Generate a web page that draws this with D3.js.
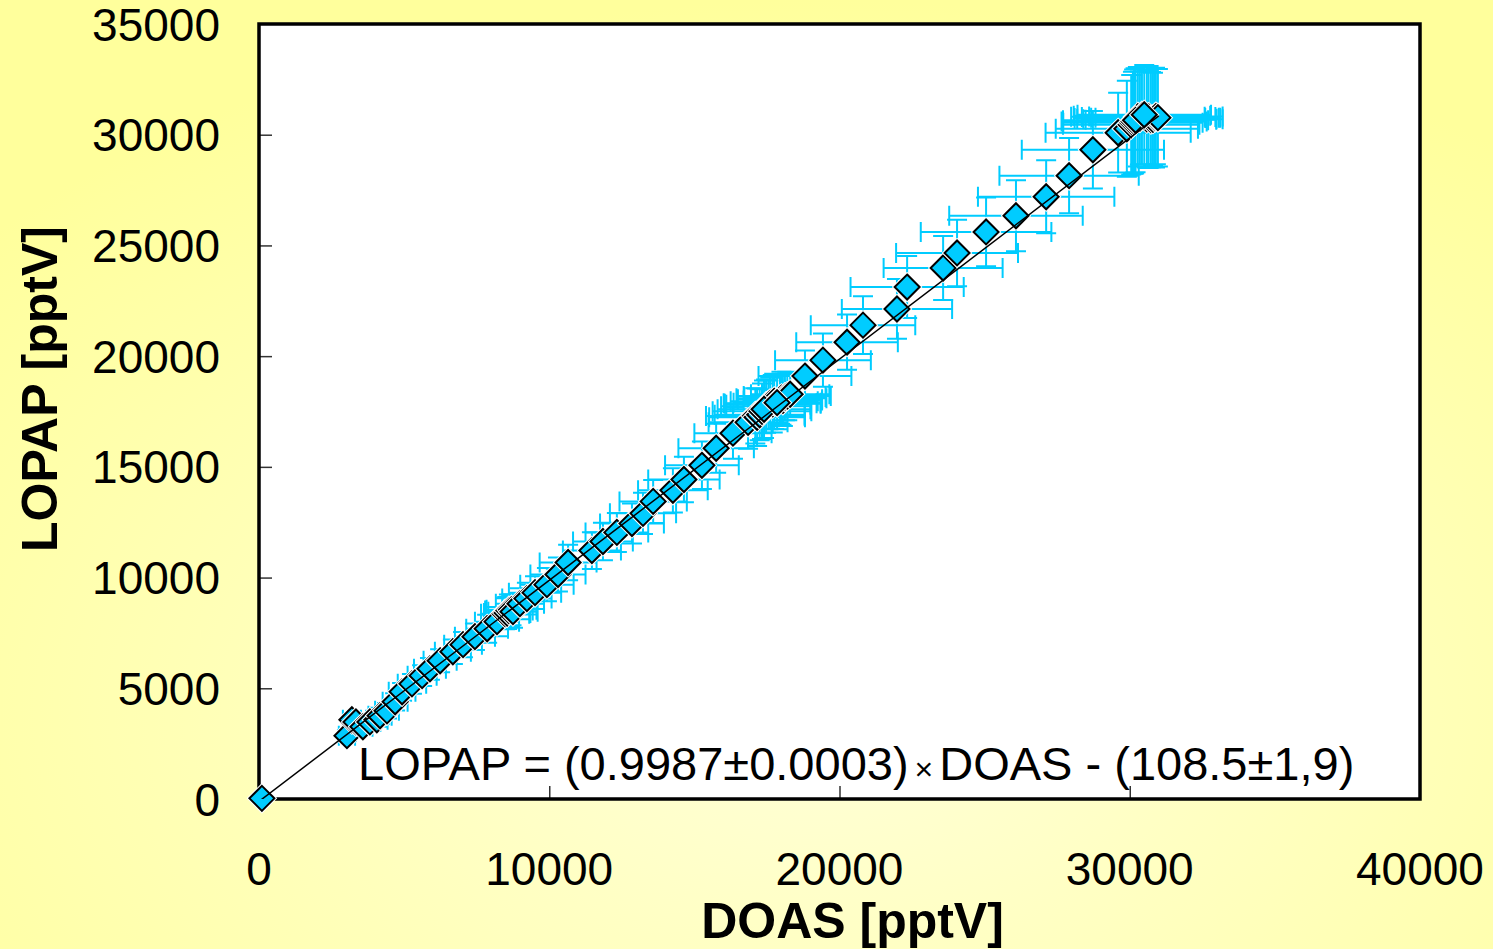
<!DOCTYPE html>
<html>
<head>
<meta charset="utf-8">
<script src="https://cdn.jsdelivr.net/npm/d3@7"></script>
<style>
  body { margin: 0; background: #ffffc0; }
  svg { display: block; }
  text { font-family: "Liberation Sans", Arial, sans-serif; fill: #000; }
</style>
</head>
<body>
<svg id="chart" width="1493" height="949"></svg>
<script>
// values (pptV)
const doas = [100, 3030, 3200, 3340, 3580, 3820, 4060, 4170, 4410, 4690, 4930, 5270, 5620, 5890, 6240,
    6680, 7030, 7440, 7860, 8200, 8480, 8550, 8610, 8700, 8750, 8990, 9230, 9510, 9920, 10300, 10650, 11470,
    11850, 12330, 12850, 13230, 13580, 14260, 14640, 15260, 15750, 16330, 16850,
    17100, 17160, 17250, 17330, 17470, 17550, 17610, 17700, 17750, 17950, 18000, 18050, 18120, 18200, 18300, 17400, 17850,
    18810, 19430, 20260, 20810, 21980, 22330, 23570, 24050, 25050, 26080, 27120, 27910, 28730, 29600,
    29900, 30050, 30110, 30150, 30280, 30350, 30420, 30590, 30650, 30730, 30800, 30870, 30900, 30970, 30200, 30500];
const lopap = [30, 2860, 3580, 3480, 3260, 3480, 3580, 3760, 3980, 4390, 4840, 5200, 5570, 5880, 6240,
    6650, 6970, 7330, 7690, 8010, 8370, 8400, 8510, 8550, 8460, 8820, 9050, 9320, 9680, 10140, 10680, 11220,
    11630, 12040, 12440, 12900, 13440, 13940, 14430, 15070, 15840, 16520, 17010,
    17300, 17240, 17350, 17510, 17740, 17800, 17870, 17850, 17960, 18050, 18100, 18000, 18150, 18200, 18280, 17600, 17900,
    19100, 19820, 20630, 21400, 22130, 23120, 23980, 24660, 25610, 26340, 27200, 28150, 29320, 30090,
    30270, 30450, 30540, 30600, 30810, 30750, 30860, 30720, 30800, 30680, 30700, 30770, 30820, 30770, 30650, 30900];
const doasErr = [10, 280, 310, 300, 330, 360, 370, 400, 410, 430, 460, 490, 500, 550, 570,
    620, 650, 690, 720, 760, 830, 800, 820, 860, 850, 830, 850, 900, 920, 950, 980, 1000,
    1030, 1080, 1100, 1140, 1160, 1200, 1230, 1270, 1300, 1330, 1360,
    1700, 1650, 1550, 1700, 1550, 1450, 1600, 1650, 1500, 1450, 1550, 1350, 1400, 1500, 1350, 1600, 1500,
    1600, 1650, 1750, 1800, 1900, 1950, 2050, 2100, 2250, 2300, 2350, 2400, 2450, 2500,
    2450, 2350, 2400, 2500, 2300, 2250, 2350, 2400, 2300, 2250, 2400, 2200, 2300, 2150, 2500, 2300];
const lopapErr = [5, 240, 290, 280, 300, 310, 320, 360, 350, 390, 400, 450, 470, 490, 520,
    550, 570, 600, 630, 660, 700, 720, 720, 700, 730, 700, 720, 740, 750, 770, 800, 830,
    850, 880, 900, 930, 970, 1000, 1030, 1070, 1110, 1150, 1190,
    1250, 1300, 1150, 1250, 1200, 1100, 1150, 1300, 1250, 1100, 1200, 1150, 1050, 1100, 1000, 1300, 1200,
    1150, 1200, 1250, 1300, 1350, 1400, 1450, 1500, 1550, 1600, 1650, 1700, 1750, 1800,
    2170, 2250, 2300, 2350, 2250, 2100, 2200, 2200, 2300, 2150, 2100, 2250, 2150, 2200, 2350, 2250];

const xTicks = [0, 10000, 20000, 30000, 40000];
const yTicks = [0, 5000, 10000, 15000, 20000, 25000, 30000, 35000];

// linear fit LOPAP = a*DOAS + b
const fitSlope = 0.9987;
const fitIntercept = -108.5;
const fitRange = [0, 31000];

const svg = d3.select("#chart"),
    width = +svg.attr("width"),
    height = +svg.attr("height");

const margin = {left: 259, right: 73, top: 24, bottom: 150};

// background
let defs = svg.append("defs");
let grad = defs.append("radialGradient")
    .attr("id", "bg")
    .attr("cx", "55%").attr("cy", "75%").attr("r", "75%");
grad.append("stop").attr("offset", "0%").attr("stop-color", "#ffffd8");
grad.append("stop").attr("offset", "100%").attr("stop-color", "#ffff9c");
svg.append("rect").attr("width", width).attr("height", height).attr("fill", "url(#bg)");

let x = d3.scaleLinear().domain([0, 40000]).range([margin.left, width - margin.right]);
let y = d3.scaleLinear().domain([0, 35000]).range([height - margin.bottom, margin.top]);

defs.append("clipPath").attr("id", "plotclip")
    .append("rect")
    .attr("x", x(0)).attr("y", y(35000))
    .attr("width", x(40000) - x(0)).attr("height", y(0) - y(35000));

// plot area
svg.append("rect")
    .attr("x", x(0)).attr("y", y(35000))
    .attr("width", x(40000) - x(0)).attr("height", y(0) - y(35000))
    .attr("fill", "white");

// inner ticks
svg.append("g")
    .attr("transform", "translate(" + x(0) + ",0)")
    .call(d3.axisRight(y).tickValues(yTicks.slice(1, -1)).tickSize(13).tickFormat(""))
    .call(g => g.select(".domain").remove())
    .call(g => g.selectAll("line").attr("stroke", "#333").attr("stroke-width", 1.5));

svg.append("g")
    .attr("transform", "translate(0," + y(0) + ")")
    .call(d3.axisTop(x).tickValues(xTicks.slice(1, -1)).tickSize(13).tickFormat(""))
    .call(g => g.select(".domain").remove())
    .call(g => g.selectAll("line").attr("stroke", "#333").attr("stroke-width", 1.5));

// tick labels
svg.append("g").selectAll("text")
    .data(yTicks)
    .enter()
    .append("text")
    .attr("x", 220)
    .attr("y", d => y(d))
    .attr("dy", "0.36em")
    .attr("text-anchor", "end")
    .style("font-size", "46px")
    .text(d => d);

svg.append("g").selectAll("text")
    .data(xTicks)
    .enter()
    .append("text")
    .attr("x", d => x(d))
    .attr("y", 885)
    .attr("text-anchor", "middle")
    .style("font-size", "46px")
    .text(d => d);

// axis titles
svg.append("text")
    .attr("x", (x(0) + x(40000)) / 2 + 13)
    .attr("y", 938)
    .attr("text-anchor", "middle")
    .style("font-size", "50px")
    .style("font-weight", "bold")
    .text("DOAS [pptV]");

svg.append("text")
    .attr("transform", "translate(57," + 389 + ") rotate(-90)")
    .attr("text-anchor", "middle")
    .style("font-size", "50px")
    .style("font-weight", "bold")
    .text("LOPAP [pptV]");

let points = doas.map(function (d, i) {
    return {doas: d, lopap: lopap[i], ex: doasErr[i], ey: lopapErr[i]};
});

let plot = svg.append("g").attr("clip-path", "url(#plotclip)");

// error bars
const cap = 10;
let bars = plot.append("g")
    .attr("stroke", "#00ccff")
    .attr("stroke-width", 2)
    .attr("fill", "none");

bars.selectAll("path")
    .data(points)
    .enter()
    .append("path")
    .attr("d", function (d) {
        let cx = x(d.doas), cy = y(d.lopap);
        let x0 = x(d.doas - d.ex), x1 = x(d.doas + d.ex);
        let y0 = y(d.lopap - d.ey), y1 = y(d.lopap + d.ey);
        return "M" + x0 + "," + cy + "H" + x1 +
            "M" + x0 + "," + (cy - cap) + "V" + (cy + cap) +
            "M" + x1 + "," + (cy - cap) + "V" + (cy + cap) +
            "M" + cx + "," + y0 + "V" + y1 +
            "M" + (cx - cap) + "," + y0 + "H" + (cx + cap) +
            "M" + (cx - cap) + "," + y1 + "H" + (cx + cap);
    });

// frame
svg.append("rect")
    .attr("x", x(0)).attr("y", y(35000))
    .attr("width", x(40000) - x(0)).attr("height", y(0) - y(35000))
    .attr("fill", "none")
    .attr("stroke", "black")
    .attr("stroke-width", 3.5);

// diamond markers (drawn over the frame, like the origin point)
const r = 12.5;
const diamond = "M0," + (-r) + "L" + r + ",0L0," + r + "L" + (-r) + ",0Z";
let marks = svg.append("g").selectAll("g")
    .data(points)
    .enter()
    .append("g")
    .attr("transform", d => "translate(" + x(d.doas) + "," + y(d.lopap) + ")");
marks.append("path")
    .attr("d", diamond)
    .attr("fill", "none")
    .attr("stroke", "white")
    .attr("stroke-width", 4);
marks.append("path")
    .attr("d", diamond)
    .attr("fill", "#00ccff")
    .attr("stroke", "black")
    .attr("stroke-width", 2)
    .attr("stroke-linejoin", "miter");

// fit line
svg.append("line")
    .attr("clip-path", "url(#plotclip)")
    .attr("x1", x(fitRange[0]))
    .attr("y1", y(fitSlope * fitRange[0] + fitIntercept))
    .attr("x2", x(fitRange[1]))
    .attr("y2", y(fitSlope * fitRange[1] + fitIntercept))
    .attr("stroke", "black")
    .attr("stroke-width", 1.5);

// regression equation
let eq = svg.append("text")
    .attr("x", 358)
    .attr("y", 780)
    .style("font-size", "47px");
eq.append("tspan").text("LOPAP = (0.9987±0.0003)");
eq.append("tspan").attr("dx", 6).style("font-size", "32px").text("×");
eq.append("tspan").attr("dx", 6).text("DOAS - (108.5±1,9)");
</script>
</body>
</html>
